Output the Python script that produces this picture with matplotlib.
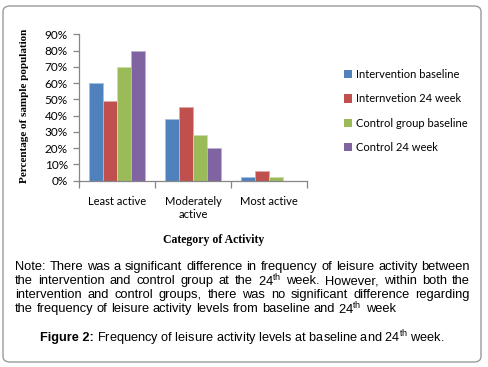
import matplotlib
matplotlib.use("Agg")
import matplotlib.pyplot as plt
import numpy as np
from matplotlib.patches import FancyBboxPatch, Patch
from matplotlib.ticker import FuncFormatter, FixedLocator

plt.rcParams['mathtext.fontset'] = 'custom'
plt.rcParams['mathtext.rm'] = 'Liberation Sans'
plt.rcParams['mathtext.it'] = 'Liberation Sans'
plt.rcParams['mathtext.bf'] = 'Liberation Sans:bold'

categories = ["Least active", "Moderately\nactive", "Most active"]
series_names = ["Intervention baseline", "Internvetion 24 week",
                "Control group baseline", "Control 24 week"]
values = {
    "Intervention baseline": [60, 38, 2],
    "Internvetion 24 week": [49, 45, 6],
    "Control group baseline": [70, 28, 2],
    "Control 24 week": [80, 20, 0],
}
colors = ["#4F81BD", "#C0504D", "#9BBB59", "#8064A2"]
edges = ["#A7C0DE", "#DFA8A6", "#CDDDAC", "#BFB1D0"]
yticks = [0, 10, 20, 30, 40, 50, 60, 70, 80, 90]

W, H = 489, 367
fig = plt.figure(figsize=(W / 100, H / 100), dpi=100)

# outer rounded box
box = FancyBboxPatch((3 / W, 5 / H), 478 / W, 356 / H,
                     boxstyle="round,pad=0,rounding_size=0.015",
                     transform=fig.transFigure, fill=False,
                     edgecolor="#9a9a9a", linewidth=1.0)
fig.patches.append(box)

ax = fig.add_axes([79 / W, 1 - 180.7 / H, 228 / W, 146.4 / H])
x = np.arange(len(categories))
bw = 0.184
for i, name in enumerate(series_names):
    ax.bar(x + (i - 1.5) * bw, values[name], width=bw, color=colors[i],
           edgecolor=edges[i], linewidth=0.6, label=name, zorder=2)

ax.set_xlim(-0.5, len(categories) - 0.5)
ax.set_ylim(0, 90)
ax.set_yticks(yticks)
ax.yaxis.set_major_formatter(FuncFormatter(lambda v, p: f"{int(v)}%"))
for s in ["top", "right"]:
    ax.spines[s].set_visible(False)
for s in ["left", "bottom"]:
    ax.spines[s].set_color("#868686")
    ax.spines[s].set_linewidth(0.9)
ax.tick_params(axis="y", length=4, width=0.9, color="#868686", pad=4,
               labelsize=8.5, labelcolor="#000000")
ax.set_xticks(x)
ax.set_xticklabels(categories, fontsize=8, family="Lato", linespacing=1.2)
ax.tick_params(axis="x", which="major", length=0, pad=11)
ax.xaxis.set_minor_locator(FixedLocator(np.arange(-0.5, len(categories), 1.0)))
ax.tick_params(axis="x", which="minor", length=5, width=0.9, color="#868686")
for lab in ax.get_yticklabels():
    lab.set_family("Lato")

fig.text(25 / W, 1 - 106 / H, "Percentage of sample population", rotation=90,
         ha="center", va="center", family="Liberation Serif",
         fontweight="bold", fontsize=8)
fig.text(214 / W, 1 - 240 / H, "Category of Activity", ha="center",
         va="center", family="Liberation Serif", fontweight="bold",
         fontsize=8.5)

handles = [Patch(facecolor=c) for c in colors]
fig.legend(handles, series_names, loc="upper left",
           bbox_to_anchor=(334 / W, 1 - 59 / H), frameon=False,
           prop={"family": "Lato", "size": 8}, handlelength=0.75,
           handleheight=0.75, handletextpad=0.35, labelspacing=1.2)

# justified note
note_lines = [
    "Note: There was a significant difference in frequency of leisure activity between",
    "the intervention and control group at the 24$^{th}$ week. However, within both the",
    "intervention and control groups, there was no significant difference regarding",
    "the frequency of leisure activity levels from baseline and 24$^{th}$ week",
]
left_px, right_px = 15, 470
line_y = [267, 281, 295, 309]
fig.canvas.draw()
renderer = fig.canvas.get_renderer()
fs = 9.3
for li, line in enumerate(note_lines):
    words = line.split(" ")
    texts = []
    widths = []
    for w in words:
        t = fig.text(0, 1 - line_y[li] / H, w, fontsize=fs,
                     family="Liberation Sans", va="center", ha="left")
        texts.append(t)
        widths.append(t.get_window_extent(renderer).width)
    sp_t = fig.text(0, 0, "a a", fontsize=fs, family="Liberation Sans")
    aa = fig.text(0, 0, "aa", fontsize=fs, family="Liberation Sans")
    space = sp_t.get_window_extent(renderer).width - aa.get_window_extent(renderer).width
    sp_t.remove(); aa.remove()
    if li < len(note_lines) - 1:
        gap = (right_px - left_px - sum(widths)) / (len(words) - 1)
    else:
        gap = space
    xp = left_px
    for t, wd in zip(texts, widths):
        t.set_x(xp / W)
        xp += wd + gap

cfs = 9.2
cap = fig.text(0, 1 - 338 / H, "Figure 2:", fontsize=cfs,
               family="Liberation Sans", fontweight="bold", va="center",
               ha="left")
rest = fig.text(0, 1 - 338 / H,
                "Frequency of leisure activity levels at baseline and 24$^{th}$ week.",
                fontsize=cfs, family="Liberation Sans", va="center", ha="left")
cw = cap.get_window_extent(renderer).width
rw = rest.get_window_extent(renderer).width
total = cw + 3 + rw
x0 = 242 - total / 2
cap.set_x(x0 / W)
rest.set_x((x0 + cw + 3) / W)

fig.savefig("out.png", dpi=100)
